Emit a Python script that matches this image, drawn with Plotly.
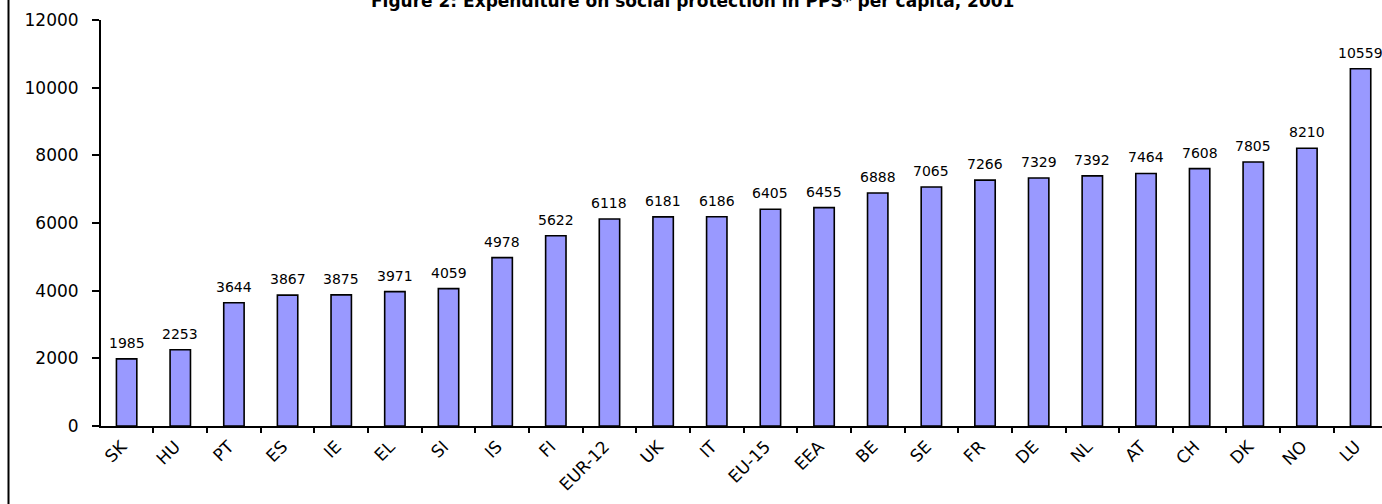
import plotly.graph_objects as go

categories = ["SK", "HU", "PT", "ES", "IE", "EL", "SI", "IS", "FI", "EUR-12", "UK", "IT",
              "EU-15", "EEA", "BE", "SE", "FR", "DE", "NL", "AT", "CH", "DK", "NO", "LU"]
values = [1985, 2253, 3644, 3867, 3875, 3971, 4059, 4978, 5622, 6118, 6181, 6186,
          6405, 6455, 6888, 7065, 7266, 7329, 7392, 7464, 7608, 7805, 8210, 10559]
y_ticks = [0, 2000, 4000, 6000, 8000, 10000, 12000]
title_text = "Figure 2: Expenditure on social protection in PPS* per capita, 2001"

W, H = 1382, 504
L, R, T, B = 101, 0, 20, 78
plot_w = W - L - R
plot_h = H - T - B
cat_px = 53.65
span = plot_w / cat_px
x0 = -0.5 + 1.2 / cat_px

FONT = "DejaVu Sans, Arial, sans-serif"

fig = go.Figure()
fig.add_trace(go.Bar(
    x=list(range(len(categories))), y=values,
    width=0.38,
    marker=dict(color="#9999FF", line=dict(color="#000000", width=1.6)),
    hoverinfo="x+y",
))

for i, v in enumerate(values):
    fig.add_annotation(x=i, y=v, text=str(v), showarrow=False, xref="x", yref="y",
                       yanchor="bottom", yshift=6,
                       font=dict(family=FONT, size=14, color="#000000"))

fig.add_annotation(text="<b>" + title_text + "</b>", xref="paper", yref="paper",
                   x=(692 - L) / plot_w, y=1 + 7 / plot_h, xanchor="center", yanchor="bottom",
                   showarrow=False, font=dict(family=FONT, size=17, color="#000000"))

# chart border (left edge)
fig.add_shape(type="line", xref="paper", yref="paper",
              x0=(8.5 - L) / plot_w, x1=(8.5 - L) / plot_w, y0=-1, y1=2,
              line=dict(color="#000000", width=2))

fig.update_layout(
    width=W, height=H,
    margin=dict(l=L, r=R, t=T, b=B, pad=0, autoexpand=False),
    paper_bgcolor="white", plot_bgcolor="white",
    showlegend=False,
    font=dict(family=FONT, color="#000000"),
)
fig.update_xaxes(
    type="linear", automargin=False,
    range=[x0, x0 + span],
    tickmode="array", tickvals=list(range(len(categories))), ticktext=categories,
    tickangle=-45, tickfont=dict(family=FONT, size=17, color="#000000"),
    ticklabelshift=-5, ticklabelstandoff=2,
    showline=True, linecolor="#000000", linewidth=2,
    ticks="", showgrid=False, zeroline=False,
)
# boundary tick marks via a second, overlaid axis
fig.update_layout(xaxis2=dict(
    overlaying="x", range=[x0, x0 + span], tickmode="array", automargin=False,
    tickvals=[i - 0.5 for i in range(len(categories) + 1)], showticklabels=False,
    ticks="outside", ticklen=6, tickwidth=2, tickcolor="#000000",
    showline=False, showgrid=False, zeroline=False, side="bottom",
))
fig.add_trace(go.Scatter(x=[], y=[], xaxis="x2", showlegend=False))
fig.update_yaxes(
    range=[0, 12000], tickmode="array", tickvals=y_ticks, ticktext=[str(t) for t in y_ticks],
    automargin=False,
    ticks="outside", ticklen=7, tickwidth=2, tickcolor="#000000",
    showline=True, linecolor="#000000", linewidth=2,
    showgrid=False, zeroline=False,
    tickfont=dict(family=FONT, size=17, color="#000000"),
    ticklabelstandoff=10,
)

fig.write_html("out.html", config={"displayModeBar": False},
               post_script="document.body.style.margin='0px';")
